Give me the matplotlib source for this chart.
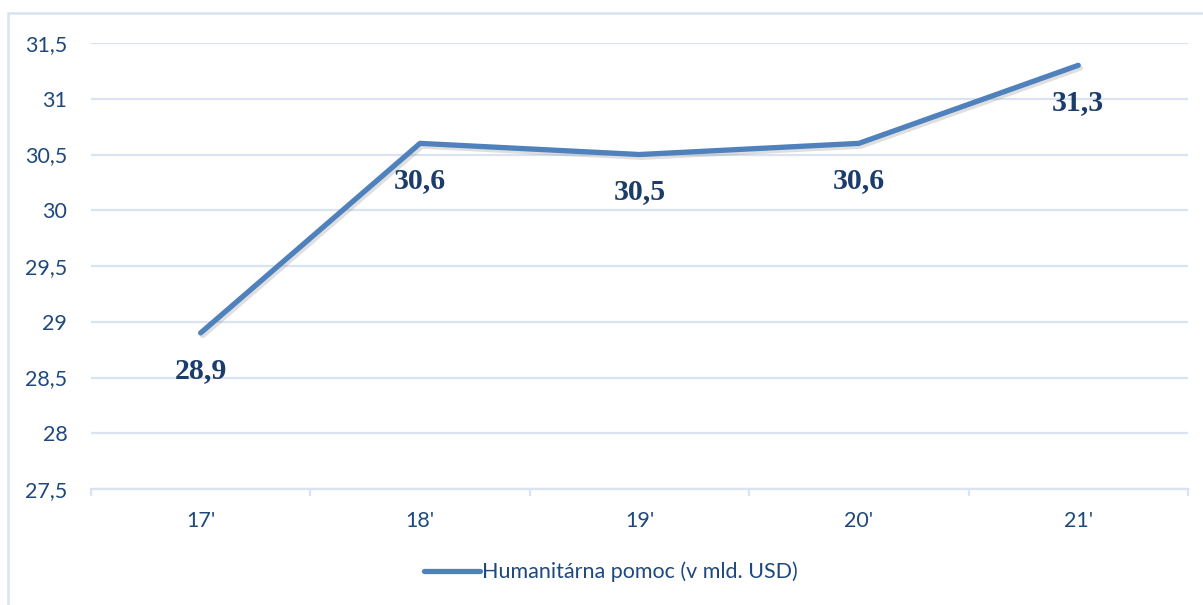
import matplotlib.pyplot as plt
import matplotlib.patheffects as pe
from matplotlib.patches import Rectangle
from matplotlib.ticker import FuncFormatter, FixedLocator

# Humanitarian aid by year (billion USD)
years = ["17'", "18'", "19'", "20'", "21'"]
aid = [28.9, 30.6, 30.5, 30.6, 31.3]
label_txt = ["28,9", "30,6", "30,5", "30,6", "31,3"]
series_name = "Humanitárna pomoc (v mld. USD)"

line_col = '#4f81bd'
text_col = '#1f497d'
label_col = '#1c3d6b'
grid_col = '#d9e3f2'

plt.rcParams['font.family'] = ['Lato', 'DejaVu Sans']

fig = plt.figure(figsize=(12.03, 6.05), dpi=100)
ax = fig.add_axes([0.0756, 0.1917, 0.9119, 0.7372])

x = list(range(len(years)))
ax.plot(x, aid, color=line_col, lw=3.8, solid_capstyle='round', solid_joinstyle='round',
        path_effects=[pe.SimpleLineShadow(offset=(1.5, -2), shadow_color='gray', alpha=0.25),
                      pe.Normal()], zorder=3)

for xi, yi, t in zip(x, aid, label_txt):
    ax.annotate(t, (xi, yi), xytext=(0, -27), textcoords='offset points',
                ha='center', va='center', fontsize=21.5, fontweight='bold',
                family='Liberation Serif', color=label_col, zorder=4)

ax.set_xlim(-0.5, len(years) - 0.5)
ax.set_ylim(27.5, 31.5)
ax.set_yticks([27.5, 28, 28.5, 29, 29.5, 30, 30.5, 31, 31.5])
ax.yaxis.set_major_formatter(FuncFormatter(lambda v, p: ('%g' % v).replace('.', ',')))
ax.set_xticks(x)
ax.set_xticklabels(years)
ax.xaxis.set_minor_locator(FixedLocator([i - 0.5 for i in range(len(years) + 1)]))

ax.grid(axis='y', color=grid_col, lw=1.6)
ax.set_axisbelow(True)
for s in ['top', 'right', 'left']:
    ax.spines[s].set_visible(False)
ax.spines['bottom'].set_color(grid_col)
ax.spines['bottom'].set_linewidth(1.6)

ax.tick_params(axis='y', length=0, pad=17, labelsize=15.5, labelcolor=text_col)
ax.tick_params(axis='x', which='major', length=0, pad=16, labelsize=15.5, labelcolor=text_col)
ax.tick_params(axis='x', which='minor', length=5, width=1.6, color=grid_col)

# legend under the plot
h, = ax.plot([], [], color=line_col, lw=3.8, solid_capstyle='round', label=series_name)
fig.legend(handles=[h], loc='center', bbox_to_anchor=(0.508, 1 - 572 / 605),
           frameon=False, fontsize=15.5, labelcolor=text_col,
           handlelength=2.6, handletextpad=0.1)

# outer frame of the chart area
fig.patches.append(Rectangle((8 / 1203, -0.2), 1.2, 1.2 - 13 / 605, transform=fig.transFigure,
                             fill=False, edgecolor=grid_col, lw=1.8))

fig.savefig('out.png', dpi=100)
